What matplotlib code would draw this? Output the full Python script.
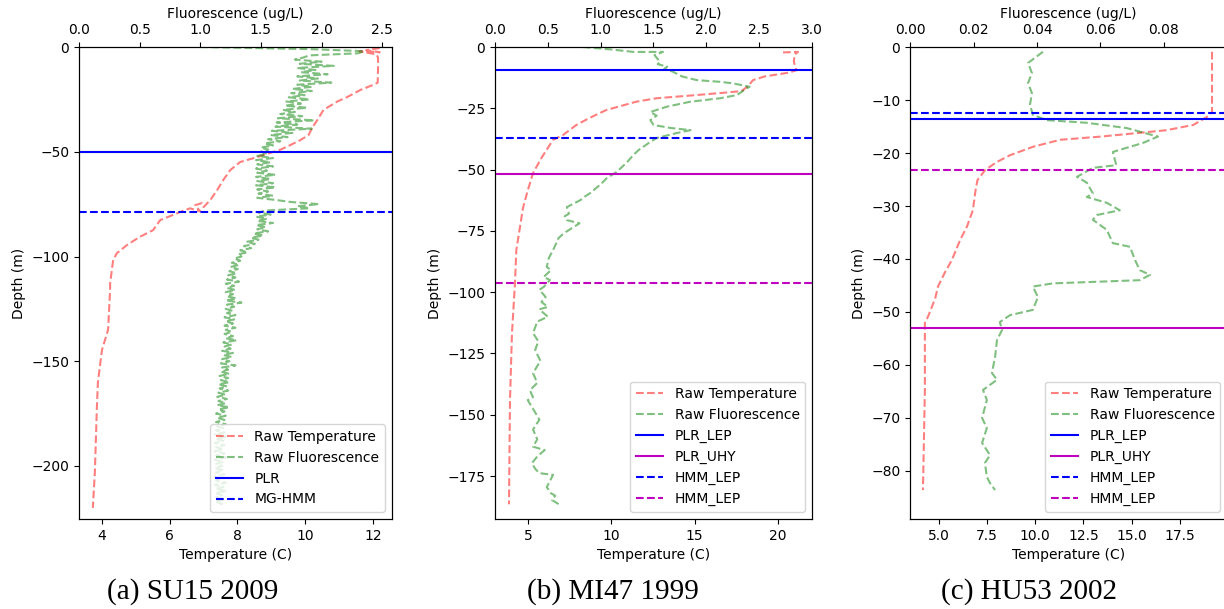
import numpy as np
import matplotlib
matplotlib.use('Agg')
import matplotlib.pyplot as plt

# ---------------- (a) SU15 2009 ----------------
a_temp = [12.2, 11.8, 12.2, 11.6, 12.1, 12.15, 12.15, 12.14, 12.0, 11.63, 11.25, 10.95, 10.54,
          10.36, 10.2, 10.1, 9.86, 9.56, 9.27, 8.59, 8.08, 7.79, 7.58, 7.4, 7.2, 7.0, 6.95,
          6.75, 6.9, 6.6, 6.3, 6.2, 5.72, 5.51, 5.12, 4.74, 4.44, 4.33, 4.24, 4.24, 4.18, 4.0,
          3.88, 3.85, 3.79, 3.73]
a_temp_depth = [-0.5, -1.5, -2.5, -2.0, -3.5, -5, -10, -17, -18.1, -20.5, -23.8, -26, -30,
                -34.8, -38.7, -42, -44.4, -46.8, -49, -52.5, -54.9, -58.7, -63.5, -68.3, -73,
                -76.4, -74.5, -75.5, -78.5, -77, -78.8, -79.5, -82.6, -87.4, -90.6, -94.5,
                -98.4, -101.7, -112.8, -116, -135, -144.6, -160, -171.8, -203, -220]
# fluorescence sampled every 1 m from the surface
a_fluor = [1.00, 1.90, 2.35, 2.30, 1.90, 1.85, 1.78, 2.00, 1.82, 2.10,
           1.80, 1.95, 1.83, 2.05, 1.80, 1.97, 1.82, 2.08, 1.80, 1.92,
           1.76, 1.92, 1.75, 1.86, 1.73, 1.90, 1.71, 1.83, 1.70, 1.88,
           1.68, 1.78, 1.66, 1.84, 1.64, 1.94, 1.63, 1.80, 1.62, 1.92,
           1.59, 1.76, 1.58, 1.72, 1.56, 1.66, 1.53, 1.60, 1.50, 1.56,
           1.50, 1.55, 1.47, 1.60, 1.46, 1.58, 1.47, 1.60, 1.46, 1.55,
           1.47, 1.62, 1.46, 1.58, 1.47, 1.60, 1.46, 1.62, 1.47, 1.56,
           1.48, 1.60, 1.47, 1.62, 1.75, 1.98, 1.80, 1.90, 1.55, 1.48,
           1.58, 1.46, 1.55, 1.47, 1.60, 1.46, 1.54, 1.47, 1.56, 1.44,
           1.52, 1.42, 1.48, 1.38, 1.45, 1.36, 1.42, 1.33, 1.39, 1.31,
           1.34, 1.28, 1.33, 1.26, 1.32, 1.25, 1.31, 1.24, 1.30, 1.23,
           1.29, 1.22, 1.32, 1.21, 1.28, 1.22, 1.29, 1.21, 1.27, 1.22,
           1.30, 1.21, 1.34, 1.22, 1.28, 1.21, 1.27, 1.22, 1.29, 1.20,
           1.28, 1.21, 1.27, 1.20, 1.29, 1.21, 1.26, 1.20, 1.27, 1.21,
           1.30, 1.19, 1.26, 1.20, 1.25, 1.18, 1.27, 1.19, 1.26, 1.18,
           1.24, 1.17, 1.29, 1.18, 1.23, 1.17, 1.24, 1.16, 1.23, 1.17,
           1.24, 1.15, 1.22, 1.16, 1.23, 1.15, 1.21, 1.14, 1.22, 1.15,
           1.21, 1.14, 1.24, 1.15, 1.20, 1.13, 1.21, 1.14, 1.20, 1.13,
           1.21, 1.14, 1.19, 1.13, 1.20, 1.12, 1.21, 1.13, 1.19, 1.12,
           1.20, 1.13, 1.19, 1.12, 1.20, 1.13, 1.21, 1.12, 1.19, 1.13,
           1.18, 1.12, 1.19, 1.13, 1.20, 1.12, 1.18, 1.13, 1.21, 1.12,
           1.19, 1.13, 1.22, 1.12, 1.18, 1.13, 1.20, 1.12, 1.18, 1.14]
a_fluor_depth = np.arange(0, -len(a_fluor), -1)
a_lines = [(-50.2, 'b-', 'PLR'), (-78.8, 'b--', 'MG-HMM')]

# ---------------- (b) MI47 1999 ----------------
b_temp = [20.3, 21.2, 21.0, 20.95, 21.1, 20.6, 19.2, 18.5, 18.2, 17.8, 16.5, 15.1, 12.7, 11.5,
          9.7, 8.7, 7.9, 7.1, 6.5, 5.84, 5.3, 4.94, 4.7, 4.3, 4.22, 4.04, 3.92, 3.86]
b_temp_depth = [-2.2, -2.0, -3.0, -6, -9.5, -10.5, -12, -13.5, -16, -18, -18.8, -19.6, -20.9,
                -22.3, -25.7, -28.9, -31.8, -35.9, -37.9, -44.9, -51.4, -59.6, -65.7, -82.8,
                -96.3, -116.7, -144, -186.5]
b_fluor = [0.83, 1.10, 1.31, 1.59, 1.51, 1.56, 1.54, 1.63, 1.60, 1.68, 1.77, 1.91, 2.13, 2.25,
           2.41, 2.36, 2.29, 2.13, 1.85, 1.63, 1.47, 1.53, 1.47, 1.50, 1.66, 1.85, 1.72, 1.53,
           1.46, 1.40, 1.36, 1.31, 1.25, 1.15, 1.06, 1.00, 0.90, 0.85, 0.81, 0.68, 0.70, 0.66,
           0.68, 0.80, 0.65, 0.60, 0.58, 0.55, 0.51, 0.49, 0.53, 0.46, 0.52, 0.46, 0.42, 0.48,
           0.44, 0.50, 0.42, 0.50, 0.40, 0.36, 0.41, 0.38, 0.43, 0.36, 0.40, 0.33, 0.36, 0.31,
           0.35, 0.38, 0.42, 0.36, 0.40, 0.36, 0.47, 0.40, 0.35, 0.38, 0.42, 0.55, 0.49, 0.53,
           0.57, 0.54, 0.62]
b_fluor_depth = [0, -1.0, -2, -2, -3.3, -6, -7, -8, -9, -10, -12, -13.5, -14.2, -14.8,
                 -16.2, -17.5, -19.6, -20.9, -22.3, -24.3, -26.5, -28, -29.8, -31.8, -33,
                 -33.9, -35.1, -37.1, -39, -40.8, -42, -44, -47, -51, -53.4, -56, -59.6, -61,
                 -62.4, -65.3, -68, -69, -70.6, -71.9, -76, -78, -80, -82.8, -86, -89.7, -91,
                 -93.8, -95, -97.9, -99, -102, -104, -106, -107, -110, -112, -116.7, -120,
                 -123.6, -128, -133, -137, -140, -142.8, -144, -146.9, -149, -152, -156,
                 -160, -163, -164.4, -167, -169.7, -172, -173.8, -174.5, -179.5, -182, -183,
                 -184.8, -186.9]
b_lines = [(-9.4, 'b-', 'PLR_LEP'), (-51.8, 'm-', 'PLR_UHY'),
           (-37.1, 'b--', 'HMM_LEP'), (-96.3, 'm--', 'HMM_LEP')]

# ---------------- (c) HU53 2002 ----------------
c_temp = [19.17, 19.17, 18.9, 18.2, 16.8, 15.1, 13.4, 11.3, 9.9, 8.7, 8.0, 7.4, 7.0, 6.9, 6.76,
          6.45, 6.1, 5.67, 5.3, 4.95, 4.8, 4.43, 4.27, 4.27, 4.17]
c_temp_depth = [-0.9, -12.3, -13.2, -14.7, -15.7, -16.3, -16.9, -17.5, -18.8, -20.4, -21.7,
                -23.2, -25.1, -27, -30.8, -33.9, -36.4, -40.2, -42.6, -45.2, -47.5, -50.9,
                -52, -64.7, -83.6]
c_fluor = [0.0419, 0.0372, 0.0384, 0.0372, 0.0384, 0.0378, 0.0387, 0.0431, 0.0557, 0.0683,
           0.0781, 0.0734, 0.0639, 0.0650, 0.0576, 0.0526, 0.0557, 0.0576, 0.0557, 0.0620,
           0.0661, 0.0589, 0.0576, 0.0620, 0.0639, 0.0693, 0.0709, 0.0724, 0.0756, 0.0724,
           0.0450, 0.0387, 0.0403, 0.0387, 0.0315, 0.0283, 0.0290, 0.0274, 0.0268, 0.0258,
           0.0274, 0.0230, 0.0242, 0.0227, 0.0242, 0.0227, 0.0252, 0.0236, 0.0242, 0.0252,
           0.0268]
c_fluor_depth = [-0.9, -3.0, -4.9, -6.8, -8.7, -10.9, -12.8, -13.8, -14.3, -15.3, -16.9, -18.1,
                 -19.8, -22.3, -22.8, -24.5, -25.6, -27.6, -28.3, -29.4, -30.8, -31.7, -32.6,
                 -34.5, -37, -37.7, -40.2, -42.1, -43, -44, -44.6, -45.2, -47.2, -49.6, -50.6,
                 -51.9, -53.4, -55.3, -58.5, -61.5, -62.8, -64.7, -66.6, -70, -71.9, -74.7, -77,
                 -78.5, -81.1, -82.3, -83.6]
c_lines = [(-13.6, 'b-', 'PLR_LEP'), (-53.0, 'm-', 'PLR_UHY'),
           (-12.4, 'b--', 'HMM_LEP'), (-23.2, 'm--', 'HMM_LEP')]

captions = ['(a) SU15 2009', '(b) MI47 1999', '(c) HU53 2002']


def draw_panel(rect, temp, tdepth, fluor, fdepth, lines, tlim, flim, dlim):
    ax1 = fig.add_axes(rect)
    l1, = ax1.plot(temp, tdepth, 'r--', alpha=0.5, label='Raw Temperature')
    ax1.set_xlim(tlim)
    ax1.set_ylim(dlim)
    ax1.set_xlabel('Temperature (C)')
    ax1.set_ylabel('Depth (m)')
    ax2 = ax1.twiny()
    l2, = ax2.plot(fluor, fdepth, 'g--', alpha=0.5, label='Raw Fluorescence')
    handles = [l1, l2]
    for d, style, name in lines:
        h = ax2.axhline(d, color=style[0], linestyle=style[1:], label=name)
        handles.append(h)
    ax2.set_xlim(flim)
    ax2.set_xlabel('Fluorescence (ug/L)')
    ax2.legend(handles=handles, loc='lower right')
    return ax1, ax2


fig = plt.figure(figsize=(12.24, 6.09), dpi=100)

draw_panel([0.0645, 0.1478, 0.2557, 0.775], a_temp, a_temp_depth, a_fluor, a_fluor_depth,
           a_lines, (3.32, 12.56), (0, 2.58), (-225.3, 0))
draw_panel([0.4044, 0.1478, 0.259, 0.775], b_temp, b_temp_depth, b_fluor, b_fluor_depth,
           b_lines, (3.02, 22.04), (0, 3.0), (-192.5, 0))
# third panel runs slightly past the right edge, as in the original figure
draw_panel([0.7435, 0.1478, 0.259, 0.775], c_temp, c_temp_depth, c_fluor, c_fluor_depth,
           c_lines, (3.5, 19.95), (0, 0.0999), (-89.06, 0))

for x, cap in zip([0.1577, 0.5008, 0.8407], captions):
    fig.text(x, 0.028, cap, family='Liberation Serif', fontsize=21, ha='center', va='center')

fig.savefig('out.png', dpi=100)
